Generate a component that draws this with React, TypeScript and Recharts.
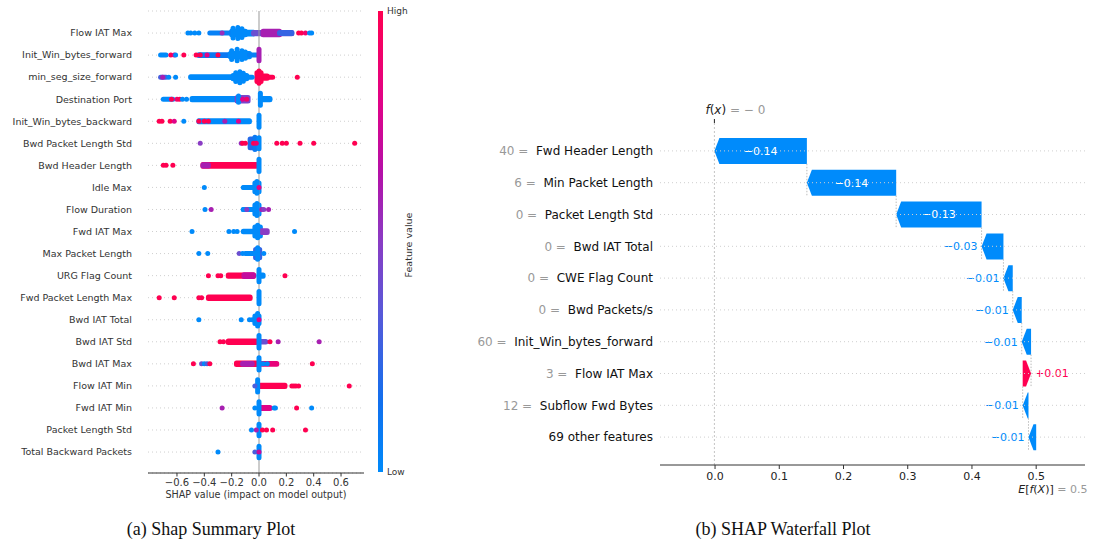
import {
  Bar,
  BarChart,
  CartesianGrid,
  ReferenceArea,
  ReferenceLine,
  Scatter,
  ScatterChart,
  XAxis,
  YAxis,
} from "recharts";

// ---- summary (beeswarm) data ----
const summaryFeatures = [
  "Flow IAT Max",
  "Init_Win_bytes_forward",
  "min_seg_size_forward",
  "Destination Port",
  "Init_Win_bytes_backward",
  "Bwd Packet Length Std",
  "Bwd Header Length",
  "Idle Max",
  "Flow Duration",
  "Fwd IAT Max",
  "Max Packet Length",
  "URG Flag Count",
  "Fwd Packet Length Max",
  "Bwd IAT Total",
  "Bwd IAT Std",
  "Bwd IAT Max",
  "Flow IAT Min",
  "Fwd IAT Min",
  "Packet Length Std",
  "Total Backward Packets",
];

const summaryTicks = [-0.6, -0.4, -0.2, 0, 0.2, 0.4, 0.6];

// dense stretches of samples: [row, shap from, shap to, pile half-height (rows), feature level]
type Band = [number, number, number, number, number];
const swarmBands: Band[] = [
  // Flow IAT Max
  [0, -0.36, -0.2, 0, 0.05],
  [0, -0.2, -0.1, 0.08, 0],
  [0, -0.19, -0.19, 0.22, 0],
  [0, -0.155, -0.155, 0.25, 0],
  [0, -0.125, -0.125, 0.2, 0],
  [0, -0.1, -0.04, 0.04, 0],
  [0, -0.04, 0.24, 0.03, 0.4],
  [0, 0.03, 0.15, 0.08, 0.6],
  [0, 0.15, 0.24, 0.02, 0.25],
  // Init_Win_bytes_forward
  [1, -0.72, -0.68, 0, 0],
  [1, -0.44, -0.21, 0.015, 0.1],
  [1, -0.21, -0.07, 0.07, 0],
  [1, -0.2, -0.2, 0.2, 0],
  [1, -0.16, -0.16, 0.26, 0],
  [1, -0.125, -0.125, 0.2, 0],
  [1, -0.1, -0.1, 0.14, 0],
  [1, -0.07, -0.01, 0, 0.05],
  [1, 0, 0, 0.26, 0.6],
  // min_seg_size_forward
  [2, -0.72, -0.68, 0, 0.3],
  [2, -0.5, -0.19, 0.02, 0],
  [2, -0.19, -0.09, 0.07, 0],
  [2, -0.17, -0.17, 0.2, 0],
  [2, -0.14, -0.14, 0.25, 0],
  [2, -0.115, -0.115, 0.18, 0],
  [2, -0.09, -0.05, 0, 0],
  [2, -0.015, 0.015, 0.2, 1],
  [2, 0, 0, 0.28, 1],
  [2, 0.015, 0.1, 0, 1],
  [2, 0.02, 0.06, 0.055, 1],
  // Destination Port
  [3, -0.7, -0.63, 0, 0],
  [3, -0.49, -0.17, 0.03, 0],
  [3, -0.15, -0.15, 0.14, 0],
  [3, -0.16, -0.08, 0.08, 0.45],
  [3, 0.01, 0.01, 0.27, 0],
  [3, 0.01, 0.08, 0.03, 0],
  // Init_Win_bytes_backward
  [4, -0.44, -0.07, 0.02, 0],
  [4, 0, 0, 0.27, 0],
  // Bwd Packet Length Std
  [5, -0.065, -0.015, 0.2, 0.2],
  [5, -0.03, -0.03, 0.28, 0.1],
  [5, 0, 0, 0.25, 0],
  // Bwd Header Length
  [6, -0.41, -0.02, 0.04, 1],
  [6, -0.41, -0.37, 0.03, 0.6],
  [6, 0, 0, 0.28, 0],
  // Idle Max
  [7, -0.11, -0.04, 0, 0],
  [7, -0.03, 0, 0.2, 0],
  [7, -0.015, -0.015, 0.27, 0],
  // Flow Duration
  [8, -0.115, -0.04, 0, 0],
  [8, -0.03, 0, 0.2, 0],
  [8, -0.015, -0.015, 0.27, 0],
  // Fwd IAT Max
  [9, -0.115, -0.04, 0.015, 0],
  [9, -0.03, 0.01, 0.2, 0],
  [9, -0.01, -0.01, 0.28, 0],
  [9, 0.02, 0.06, 0.04, 0.5],
  // Max Packet Length
  [10, -0.1, -0.03, 0, 0],
  [10, -0.025, 0.005, 0.19, 0.25],
  [10, -0.01, -0.01, 0.26, 0],
  // URG Flag Count
  [11, -0.225, -0.04, 0.03, 1],
  [11, -0.11, -0.04, 0.035, 0.7],
  [11, 0, 0, 0.28, 0],
  [11, 0, 0.03, 0.03, 0],
  // Fwd Packet Length Max
  [12, -0.37, -0.065, 0.035, 1],
  [12, 0, 0, 0.28, 0],
  // Bwd IAT Total
  [13, -0.03, 0, 0.17, 0],
  [13, -0.01, -0.01, 0.28, 0],
  // Bwd IAT Std
  [14, -0.225, -0.02, 0.035, 1],
  [14, 0, 0, 0.28, 0],
  [14, 0.01, 0.05, 0.015, 0.4],
  // Bwd IAT Max
  [15, -0.165, -0.01, 0.035, 1],
  [15, -0.12, -0.05, 0.02, 0.6],
  [15, 0, 0, 0.28, 0],
  [15, 0.01, 0.13, 0.02, 0.85],
  // Flow IAT Min
  [16, -0.01, -0.01, 0.28, 0],
  [16, 0, 0.19, 0.03, 1],
  // Fwd IAT Min
  [17, 0, 0, 0.28, 0],
  [17, 0.01, 0.08, 0.02, 0.8],
  // Packet Length Std
  [18, 0, 0, 0.26, 0],
  // Total Backward Packets
  [19, 0, 0, 0.26, 0],
];

// isolated samples: [row, shap value, feature level]
type Dot = [number, number, number];
const swarmDots: Dot[] = [
  [0, -0.52, 0], [0, -0.5, 0], [0, -0.47, 0], [0, -0.44, 0], [0, -0.27, 0.55],
  [0, 0.29, 1], [0, 0.31, 1], [0, 0.34, 0.9], [0, 0.37, 0], [0, 0.385, 0],
  [1, -0.645, 1], [1, -0.62, 0.8], [1, -0.61, 0], [1, -0.55, 1], [1, -0.46, 1],
  [1, -0.43, 1], [1, -0.38, 0.8], [1, -0.3, 1],
  [2, -0.705, 0.6], [2, -0.66, 0], [2, -0.61, 0], [2, 0.28, 1],
  [3, -0.64, 1], [3, -0.6, 0.9], [3, -0.58, 1], [3, -0.56, 0], [3, -0.53, 0],
  [3, -0.12, 0.8], [3, -0.09, 0.9],
  [4, -0.73, 1], [4, -0.71, 1], [4, -0.65, 1], [4, -0.62, 0.8], [4, -0.55, 0],
  [4, -0.44, 1], [4, -0.4, 1], [4, -0.37, 1], [4, -0.25, 0.6], [4, -0.15, 0.8],
  [5, -0.43, 0.5], [5, -0.13, 0.55], [5, -0.12, 1], [5, -0.1, 1], [5, -0.04, 1],
  [5, -0.02, 0.9], [5, 0.13, 1], [5, 0.17, 1], [5, 0.2, 1], [5, 0.3, 1],
  [5, 0.4, 1], [5, 0.7, 1],
  [6, -0.7, 1], [6, -0.68, 1], [6, -0.63, 1],
  [7, -0.4, 0], [7, -0.115, 0], [7, -0.09, 0], [7, 0, 0.8],
  [8, -0.395, 0], [8, -0.35, 0.6], [8, -0.115, 0], [8, -0.09, 0.5],
  [8, 0.02, 0.6], [8, 0.035, 0.5], [8, 0.07, 0.6],
  [9, -0.49, 0], [9, -0.22, 0], [9, -0.185, 0], [9, -0.16, 0], [9, 0.26, 0],
  [10, -0.44, 0], [10, -0.375, 0], [10, -0.145, 0.4], [10, -0.12, 0], [10, 0.035, 0],
  [11, -0.37, 1], [11, -0.3, 1], [11, -0.28, 1], [11, 0.19, 1],
  [12, -0.73, 1], [12, -0.62, 1], [12, -0.44, 1], [12, -0.42, 1],
  [13, -0.44, 0], [13, -0.13, 0], [13, -0.07, 0], [13, -0.05, 0], [13, 0, 0.8],
  [14, -0.285, 1], [14, -0.26, 1], [14, 0.08, 1], [14, 0.14, 0.6], [14, 0.44, 0.6],
  [15, -0.48, 1], [15, -0.42, 0.4], [15, -0.4, 0], [15, -0.38, 0.3], [15, -0.36, 1],
  [15, 0.03, 0], [15, 0.06, 0], [15, 0.39, 1],
  [16, -0.03, 0.3], [16, 0.24, 1], [16, 0.255, 1], [16, 0.27, 1], [16, 0.29, 1],
  [16, 0.66, 1],
  [17, -0.27, 0.6], [17, -0.03, 0], [17, 0.11, 0], [17, 0.12, 0], [17, 0.275, 1],
  [17, 0.385, 0],
  [18, -0.055, 0], [18, -0.02, 0.6], [18, 0.025, 1], [18, 0.055, 1], [18, 0.1, 1],
  [18, 0.34, 1],
  [19, -0.3, 0], [19, -0.03, 0.3], [19, 0, 0.7],
];

// ---- waterfall data ----
const waterfallFeatures = [
  "Fwd Header Length",
  "Min Packet Length",
  "Packet Length Std",
  "Bwd IAT Total",
  "CWE Flag Count",
  "Bwd Packets/s",
  "Init_Win_bytes_forward",
  "Flow IAT Max",
  "Subflow Fwd Bytes",
  "69 other features",
];
const waterfallInputs = ["40", "6", "0", "0", "0", "0", "60", "3", "12", ""];
const waterfallShap = [
  -0.144, -0.139, -0.133, -0.034, -0.0145, -0.014, -0.0145, 0.013, -0.009, -0.012,
];
const baseValue = 0.5;
const waterfallTicks = [0, 0.1, 0.2, 0.3, 0.4, 0.5];

const BLUE = "#008bfb";
const RED = "#ff0051";
const FONT = '"DejaVu Sans", sans-serif';

const FEATURE_STOPS: [number, number[]][] = [
  [0, [0, 138, 250]],
  [0.15, [17, 112, 238]],
  [0.35, [90, 88, 216]],
  [0.5, [138, 60, 196]],
  [0.65, [181, 16, 168]],
  [0.8, [224, 3, 136]],
  [1, [255, 0, 81]],
];

function featureColor(t: number) {
  for (let i = 1; i < FEATURE_STOPS.length; i++) {
    const [o1, c1] = FEATURE_STOPS[i];
    const [o0, c0] = FEATURE_STOPS[i - 1];
    if (t <= o1) {
      const k = (t - o0) / (o1 - o0);
      const c = c0.map((v, j) => Math.round(v + (c1[j] - v) * k));
      return `rgb(${c[0]},${c[1]},${c[2]})`;
    }
  }
  return RED;
}

const minus = (s: string) => s.replace("-", "\u2212");
const fmtAxis = (v: number) => minus(v.toFixed(1));
const fmtShap = (v: number) =>
  v < 0 ? `\u2212${Math.abs(v).toFixed(2)}` : `+${v.toFixed(2)}`;

function SummaryTick(props: any) {
  const { x, y, payload } = props;
  return (
    <text x={x} y={y} dy="0.35em" textAnchor="end" fontSize={9.5} fill="#333">
      {summaryFeatures[payload.value]}
    </text>
  );
}

function SummaryPlot() {
  const dots = swarmDots.map(([row, x, level]) => ({ x, y: row, level }));
  const rows = summaryFeatures.map((_, i) => i);
  return (
    <ScatterChart
      width={380}
      height={510}
      margin={{ top: 11, right: 16, left: 0, bottom: 0 }}
    >
      <CartesianGrid vertical={false} stroke="#cfcfcf" strokeDasharray="1 3" />
      <XAxis
        type="number"
        dataKey="x"
        domain={[-0.812, 0.768]}
        allowDataOverflow
        ticks={summaryTicks}
        interval={0}
        tickFormatter={fmtAxis}
        height={37}
        stroke="#333"
        tickSize={3.5}
        tickMargin={2}
        tick={{ fontSize: 10, fill: "#333" }}
        label={{
          value: "SHAP value (impact on model output)",
          position: "insideBottom",
          offset: 12,
          fontSize: 9.6,
          fill: "#333",
        }}
      />
      <YAxis
        type="number"
        dataKey="y"
        domain={[-1, 19.95]}
        allowDataOverflow
        reversed
        ticks={rows}
        interval={0}
        width={148}
        axisLine={false}
        tickLine={false}
        tickSize={0}
        tickMargin={16}
        tick={<SummaryTick />}
      />
      <ReferenceLine x={0} stroke="#999" />
      {swarmBands.map(([row, from, to, spread, level], i) => {
        const c = featureColor(level);
        if (from === to || spread === 0) {
          return (
            <ReferenceLine
              key={`b${i}`}
              segment={[
                { x: from, y: row - spread },
                { x: to, y: row + spread },
              ]}
              stroke={c}
              strokeWidth={5}
              strokeLinecap="round"
            />
          );
        }
        return (
          <ReferenceArea
            key={`b${i}`}
            x1={from}
            x2={to}
            y1={row - spread}
            y2={row + spread}
            fill={c}
            fillOpacity={1}
            stroke={c}
            strokeWidth={5}
            strokeLinejoin="round"
          />
        );
      })}
      <Scatter
        data={dots}
        isAnimationActive={false}
        shape={(p: any) => (
          <circle cx={p.cx} cy={p.cy} r={2.5} fill={featureColor(p.payload.level)} />
        )}
      />
    </ScatterChart>
  );
}

function ColorBar() {
  return (
    <svg
      width={60}
      height={490}
      style={{ position: "absolute", left: 370, top: 0, fontFamily: FONT }}
    >
      <defs>
        <linearGradient id="featureScale" x1="0" y1="1" x2="0" y2="0">
          {FEATURE_STOPS.map(([o, c]) => (
            <stop key={o} offset={o} stopColor={`rgb(${c[0]},${c[1]},${c[2]})`} />
          ))}
        </linearGradient>
      </defs>
      <rect x={8} y={11} width={5} height={461} fill="url(#featureScale)" />
      <text x={17} y={11} dy="0.35em" fontSize={9} fill="#333">
        High
      </text>
      <text x={17} y={472} dy="0.35em" fontSize={9} fill="#333">
        Low
      </text>
      <text
        transform="translate(39,245) rotate(-90)"
        textAnchor="middle"
        dy="0.35em"
        fontSize={9.5}
        fill="#333"
      >
        Feature value
      </text>
    </svg>
  );
}

function WaterfallYTick(props: any) {
  const { x, y, payload } = props;
  const idx = waterfallFeatures.indexOf(payload.value);
  const input = waterfallInputs[idx];
  return (
    <text x={x} y={y} dy="0.35em" textAnchor="end" fontSize={12}>
      {input && <tspan fill="#999">{`${input} =\u00a0\u00a0`}</tspan>}
      <tspan fill="#111">{payload.value}</tspan>
    </text>
  );
}

function WaterfallXTick(props: any) {
  const { x, y, payload } = props;
  return (
    <g>
      <text x={x} y={y} dy="0.71em" textAnchor="middle" fontSize={11} fill="#222">
        {payload.value.toFixed(1)}
      </text>
      {payload.value === baseValue && (
        <text x={x - 18} y={y + 13} dy="0.71em" fontSize={11} fill="#222">
          <tspan fontStyle="italic">E</tspan>
          <tspan>[</tspan>
          <tspan fontStyle="italic">f</tspan>
          <tspan>(</tspan>
          <tspan fontStyle="italic">X</tspan>
          <tspan>)]</tspan>
          <tspan fill="#999">{` = ${baseValue}`}</tspan>
        </text>
      )}
    </g>
  );
}

function FxLabel(props: any) {
  const { viewBox, value } = props;
  const x = viewBox.x;
  const y = viewBox.y;
  return (
    <g>
      <line x1={x} x2={x} y1={y - 4} y2={y} stroke="#222" />
      <text x={x - 9} y={y - 13} dy="0.35em" fontSize={12} fill="#222">
        <tspan fontStyle="italic">f</tspan>
        <tspan>(</tspan>
        <tspan fontStyle="italic">x</tspan>
        <tspan>)</tspan>
        <tspan fill="#999">{` = ${value}`}</tspan>
      </text>
    </g>
  );
}

function ArrowBar(props: any) {
  const { x, y, width, height, payload, index } = props;
  const neg = payload.shap < 0;
  const head = Math.min(5, width);
  const mid = y + height / 2;
  const pts = neg
    ? [
        [x + width, y],
        [x + head, y],
        [x, mid],
        [x + head, y + height],
        [x + width, y + height],
      ]
    : [
        [x, y],
        [x + width - head, y],
        [x + width, mid],
        [x + width - head, y + height],
        [x, y + height],
      ];
  const label = fmtShap(payload.shap);
  const inside = width > 44;
  const linkX = neg ? x : x + width;
  return (
    <g>
      {index > 0 && (
        <line
          x1={linkX}
          x2={linkX}
          y1={y - 6}
          y2={y + height}
          stroke="#bbb"
          strokeDasharray="1.5 1.5"
        />
      )}
      <polygon points={pts.map((p) => p.join(",")).join(" ")} fill={neg ? BLUE : RED} />
      {inside ? (
        <text x={x + width / 2} y={mid} dy="0.35em" textAnchor="middle" fontSize={11} fill="#fff">
          {label}
        </text>
      ) : neg ? (
        <text x={x - 4} y={mid} dy="0.35em" textAnchor="end" fontSize={11} fill={BLUE}>
          {label}
        </text>
      ) : (
        <text x={x + width + 4} y={mid} dy="0.35em" textAnchor="start" fontSize={11} fill={RED}>
          {label}
        </text>
      )}
    </g>
  );
}

function WaterfallPlot() {
  // accumulate from the base value at the bottom row upwards
  const rows: any[] = [];
  let cur = baseValue;
  for (let i = waterfallFeatures.length - 1; i >= 0; i--) {
    const next = cur + waterfallShap[i];
    rows[i] = {
      name: waterfallFeatures[i],
      shap: waterfallShap[i],
      range: [Math.min(cur, next), Math.max(cur, next)],
    };
    cur = next;
  }
  const fx = cur;
  return (
    <BarChart
      layout="vertical"
      width={642}
      height={510}
      data={rows}
      barSize={26}
      margin={{ top: 123, right: 17, left: 0, bottom: 5 }}
    >
      {waterfallFeatures.map((name) => (
        <ReferenceLine key={name} y={name} stroke="#cfcfcf" strokeDasharray="1 3" />
      ))}
      <XAxis
        type="number"
        domain={[-0.0857, 0.576]}
        allowDataOverflow
        ticks={waterfallTicks}
        interval={0}
        height={40}
        stroke="#333"
        tickSize={4}
        tickMargin={3}
        tick={<WaterfallXTick />}
      />
      <YAxis
        type="category"
        dataKey="name"
        width={200}
        interval={0}
        axisLine={false}
        tickLine={false}
        tickSize={0}
        tickMargin={7}
        padding={{ top: 12, bottom: 12 }}
        tick={<WaterfallYTick />}
      />
      <ReferenceLine
        x={fx}
        stroke="#c4c4c4"
        strokeDasharray="2 2"
        label={<FxLabel value={minus(fx.toFixed(0)).replace("\u2212", "\u2212 ")} />}
      />
      <Bar dataKey="range" isAnimationActive={false} shape={<ArrowBar />} />
    </BarChart>
  );
}

const captionStyle = {
  position: "absolute" as const,
  top: 519,
  fontFamily: '"Liberation Serif", serif',
  fontSize: 18,
  lineHeight: "20px",
  color: "#111",
  textAlign: "center" as const,
  width: 300,
};

export default function App() {
  return (
    <div
      style={{
        position: "absolute",
        left: 0,
        top: 0,
        width: 1102,
        height: 541,
        background: "#fff",
        fontFamily: FONT,
        overflow: "hidden",
      }}
    >
      <div style={{ position: "absolute", left: 0, top: 0 }}>
        <SummaryPlot />
      </div>
      <ColorBar />
      <div style={{ position: "absolute", left: 460, top: 0 }}>
        <WaterfallPlot />
      </div>
      <div style={{ ...captionStyle, left: 61 }}>(a) Shap Summary Plot</div>
      <div style={{ ...captionStyle, left: 633 }}>(b) SHAP Waterfall Plot</div>
    </div>
  );
}
